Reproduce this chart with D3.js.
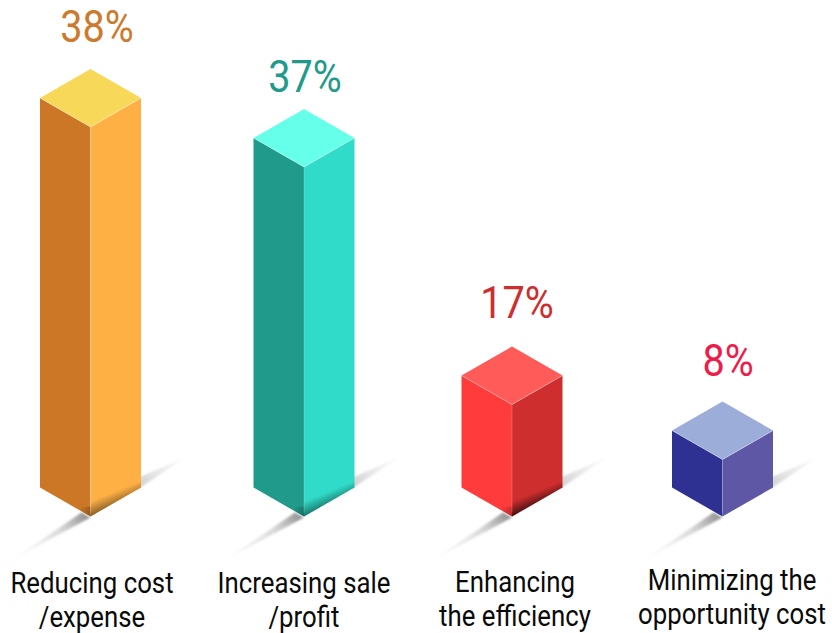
<!DOCTYPE html>
<html>
<head>
<meta charset="utf-8">
<style>
  html, body { margin: 0; background: #fff; }
  svg { display: block; }
  text { font-family: Roboto, sans-serif; }
</style>
<script src="https://cdn.jsdelivr.net/npm/d3@7"></script>
</head>
<body>
<svg id="chart" width="832" height="633"></svg>
<script>
// Survey results shown as isometric columns
const categories = ["Reducing cost", "Increasing sale", "Enhancing", "Minimizing the"];
const categoriesLine2 = ["/expense", "/profit", "the efficiency", "opportunity cost"];
const shares = [38, 37, 17, 8];
const topColors = ["#f8d858", "#66ffe9", "#ff5b59", "#9dadd9"];
const leftColors = ["#cc7726", "#1f9a8b", "#ff3b3b", "#2f3192"];
const rightColors = ["#ffb045", "#31dbc9", "#cf2e2e", "#5d57a6"];
const valueColors = ["#cc7a2c", "#1f9a8b", "#cf2e2e", "#ee1c4b"];

const svg = d3.select("#chart");
const defs = svg.append("defs");

const x = d3.scaleOrdinal().domain(shares).range([90.5, 304, 512, 722.5]);
const valueX = d3.scaleOrdinal().domain(shares).range([97, 305, 517, 728]);
const valueY = d3.scaleOrdinal().domain(shares).range([42, 92, 318, 376]);
const nameX = d3.scaleOrdinal().domain(shares).range([92, 304, 515, 732]);
const nameY = d3.scaleOrdinal().domain(shares).range([593, 593, 592, 590]);

// Column height is not linear in the share: the scale is calibrated stop by stop
const height = d3.scaleLinear().domain([0, 8, 17, 37, 38]).range([0, 57, 112, 349.5, 389.5]);

const baseY = 516.5;
const halfW = 50.5;
const halfD = 29;

function fade(id, x1, y1, x2, y2, stops) {
  const g = defs.append("linearGradient").attr("id", id)
    .attr("gradientUnits", "userSpaceOnUse")
    .attr("x1", x1).attr("y1", y1).attr("x2", x2).attr("y2", y2);
  stops.forEach(s => g.append("stop").attr("offset", s[0])
    .attr("stop-color", s[1]).attr("stop-opacity", s[2]));
}
defs.append("filter").attr("id", "soft").attr("x", "-20%").attr("y", "-20%")
  .attr("width", "140%").attr("height", "140%")
  .append("feGaussianBlur").attr("stdDeviation", 1);

const path = d3.line();

shares.forEach((v, i) => {
  const cx = x(v);
  const front = baseY - height(v);
  const l = cx - halfW, r = cx + halfW;

  // Cast shadow in front of the column, running down to the lower left
  fade("shFront" + i, cx - 6, baseY, cx - 78, baseY + 42,
    [[0, "#555", 0.6], [0.35, "#999", 0.35], [1, "#ccc", 0.05]]);
  svg.append("path")
    .attr("d", path([[cx - 9, baseY - 4], [cx, baseY + 1], [cx - 78, baseY + 43]]) + "Z")
    .attr("fill", `url(#shFront${i})`).attr("filter", "url(#soft)");

  // Cast shadow behind the column, running up to the right
  fade("shBack" + i, r, baseY - 34, r + 48, baseY - 60,
    [[0, "#999", 0.42], [1, "#ccc", 0.02]]);
  svg.append("path")
    .attr("d", path([[r - 2, baseY - 39], [r + 48, baseY - 61], [r - 2, baseY - 28]]) + "Z")
    .attr("fill", `url(#shBack${i})`).attr("filter", "url(#soft)");

  // Faces
  svg.append("path").attr("fill", leftColors[i])
    .attr("d", path([[l, front - halfD], [cx, front], [cx, baseY], [l, baseY - halfD]]) + "Z");
  svg.append("path").attr("fill", rightColors[i])
    .attr("d", path([[cx, front], [r, front - halfD], [r, baseY - halfD], [cx, baseY]]) + "Z");
  svg.append("path").attr("fill", topColors[i])
    .attr("d", path([[l, front - halfD], [cx, front - 2 * halfD], [r, front - halfD], [cx, front]]) + "Z");

  // Contact shading along the foot of the column, absent on the short cube
  if (v !== 8) {
    const dark = i === 2 ? 0.66 : 0.46;
    fade("footR" + i, cx, baseY - 15, cx + 5.3, baseY - 2.2,
      [[0, "#000", 0], [1, "#000", dark]]);
    svg.append("path").attr("fill", `url(#footR${i})`)
      .attr("d", path([[cx, baseY - 15], [r, baseY - halfD - 7], [r, baseY - halfD], [cx, baseY]]) + "Z");
    fade("footL" + i, cx, baseY, cx - 12, baseY - 6,
      [[0, "#000", 0.3], [1, "#000", 0]]);
    svg.append("path").attr("fill", `url(#footL${i})`)
      .attr("d", path([[cx - 16, baseY - 9], [cx, baseY - 10], [cx, baseY]]) + "Z");
  }

  // Thin highlights on the ridge lines
  svg.append("path").attr("fill", "none").attr("stroke", "#fff")
    .attr("stroke-opacity", 0.4).attr("stroke-width", 0.8)
    .attr("d", path([[l, front - halfD], [cx, front], [r, front - halfD]]));
  svg.append("path").attr("fill", "none").attr("stroke", "#fff")
    .attr("stroke-opacity", 0.25).attr("stroke-width", 0.8)
    .attr("d", path([[cx, front], [cx, baseY - 4]]));
});

// Percentages above the columns
svg.selectAll("text.value").data(shares).join("text")
  .attr("class", "value")
  .attr("transform", d => `translate(${valueX(d)},${valueY(d)}) scale(0.9,1)`)
  .attr("text-anchor", "middle")
  .attr("font-size", 44)
  .attr("font-weight", 400)
  .attr("fill", (d, i) => valueColors[i])
  .text(d => d + "%");

// Two-line category names
function nameLine(cls, texts, dy) {
  svg.selectAll("text." + cls).data(shares).join("text")
    .attr("class", cls)
    .attr("transform", d => `translate(${nameX(d)},${nameY(d) + dy}) scale(0.86,1)`)
    .attr("text-anchor", "middle")
    .attr("font-size", 30)
    .attr("fill", "#0a0a0a")
    .text((d, i) => texts[i]);
}
nameLine("name1", categories, 0);
nameLine("name2", categoriesLine2, 33.5);
</script>
</body>
</html>
